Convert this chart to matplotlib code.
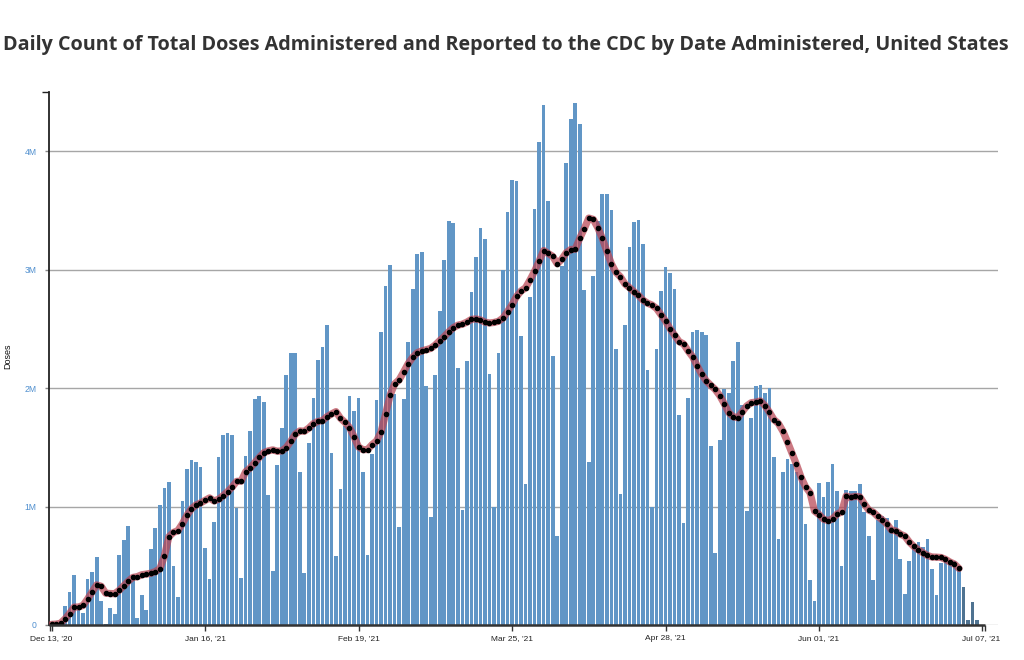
import matplotlib
matplotlib.use("Agg")
import matplotlib.pyplot as plt
import numpy as np
import pandas as pd

# ---------------- data (millions of doses per day, starting Dec 13, 2020) ----------------
start_date = "2020-12-13"
doses_millions = [
    0.005, 0.01, 0.03, 0.16, 0.28, 0.42, 0.16,
    0.10, 0.39, 0.45, 0.57, 0.20, 0.01, 0.14,
    0.09, 0.59, 0.72, 0.84, 0.42, 0.06, 0.25,
    0.13, 0.64, 0.82, 1.01, 1.16, 1.21, 0.50,
    0.24, 1.05, 1.32, 1.39, 1.38, 1.33, 0.65,
    0.39, 0.87, 1.42, 1.60, 1.62, 1.60, 0.99,
    0.40, 1.43, 1.64, 1.91, 1.93, 1.88, 1.10,
    0.46, 1.35, 1.66, 2.11, 2.30, 2.30, 1.29,
    0.44, 1.54, 1.92, 2.24, 2.35, 2.53, 1.45,
    0.58, 1.15, 1.68, 1.93, 1.81, 1.92, 1.29,
    0.59, 1.44, 1.90, 2.47, 2.86, 3.04, 1.95,
    0.83, 1.91, 2.39, 2.84, 3.13, 3.15, 2.02,
    0.91, 2.11, 2.65, 3.08, 3.41, 3.39, 2.17,
    0.97, 2.23, 2.81, 3.11, 3.35, 3.26, 2.12,
    1.00, 2.30, 3.00, 3.49, 3.76, 3.75, 2.44,
    1.19, 2.77, 3.51, 4.08, 4.39, 3.58, 2.27,
    0.75, 3.03, 3.90, 4.27, 4.41, 4.23, 2.83,
    1.38, 2.95, 3.41, 3.64, 3.64, 3.50, 2.33,
    1.11, 2.53, 3.19, 3.40, 3.42, 3.22, 2.15,
    1.00, 2.33, 2.82, 3.02, 2.97, 2.84, 1.77,
    0.86, 1.92, 2.47, 2.49, 2.47, 2.45, 1.51,
    0.61, 1.56, 1.99, 1.96, 2.23, 2.39, 1.86,
    0.96, 1.75, 2.02, 2.03, 1.96, 2.00, 1.42,
    0.73, 1.29, 1.40, 1.36, 1.29, 1.25, 0.85,
    0.38, 0.20, 1.20, 1.08, 1.21, 1.36, 1.13,
    0.50, 1.14, 1.13, 1.13, 1.19, 0.95, 0.75,
    0.38, 0.89, 0.92, 0.90, 0.83, 0.89, 0.56,
    0.26, 0.54, 0.66, 0.70, 0.66, 0.73, 0.47,
    0.25, 0.52, 0.55, 0.54, 0.54, 0.47,
    0.32, 0.04, 0.19, 0.04,
]
incomplete_days = 4          # most recent days, reporting still incomplete
avg_window = 7               # 7-day moving average

tick_dates = ["2020-12-13", "2021-01-16", "2021-02-19", "2021-03-25",
              "2021-04-28", "2021-06-01", "2021-07-07"]
tick_labels = ["Dec 13, '20", "Jan 16, '21", "Feb 19, '21", "Mar 25, '21",
               "Apr 28, '21", "Jun 01, '21", "Jul 07, '21"]
y_ticks = [0, 1e6, 2e6, 3e6, 4e6]
y_tick_labels = ["0", "1M", "2M", "3M", "4M"]
title = ("Daily Count of Total Doses Administered and Reported to the CDC by "
         "Date Administered, United States")

# ---------------- derived ----------------
doses = np.array(doses_millions) * 1e6
n = len(doses)
t0 = pd.Timestamp(start_date)
day_idx = np.arange(n)
tick_pos = [(pd.Timestamp(d) - t0).days for d in tick_dates]
n_complete = n - incomplete_days
moving_avg = pd.Series(doses[:n_complete]).rolling(avg_window, min_periods=1).mean()

# ---------------- figure ----------------
W, H = 1024, 660
fig = plt.figure(figsize=(W / 100, H / 100), dpi=100)
fig.patch.set_facecolor("white")

ax_left, ax_right, ax_top, ax_bottom = 49, 998, 92, 625
ax = fig.add_axes([ax_left / W, 1 - ax_bottom / H,
                   (ax_right - ax_left) / W, (ax_bottom - ax_top) / H])

px_per_day = 4.515
x0_px = 51.5
xmin = (ax_left - x0_px) / px_per_day
xmax = (ax_right - x0_px) / px_per_day
domain_end = (985 - x0_px) / px_per_day
ax.set_xlim(xmin, xmax)
ax.set_ylim(0, 4.5e6)

# gridlines
for y in y_ticks[1:]:
    ax.axhline(y, color="#a6a6a6", lw=1.0, zorder=0)
ax.axhline(0, color="#bdbdbd", lw=1.0, zorder=0)

# bars
colors = ["#6196c6"] * n_complete + ["#4f7391"] * incomplete_days
ax.bar(day_idx, doses, width=0.82, color=colors, zorder=2, linewidth=0)

# moving average
ax.plot(day_idx[:n_complete], moving_avg, color="#b84452", alpha=0.72,
        lw=5.2, solid_capstyle="round", solid_joinstyle="round", zorder=3)
ax.plot(day_idx[:n_complete], moving_avg, linestyle="none", marker="o",
        markersize=3.0, color="black", zorder=4)

# axes styling
for s in ["top", "right", "bottom"]:
    ax.spines[s].set_visible(False)
ax.spines["left"].set_color("#222222")
ax.spines["left"].set_linewidth(1.3)
ax.plot([xmin, domain_end], [0, 0], color="#333333", lw=1.8, zorder=5,
        clip_on=False, solid_capstyle="butt")

ax.set_xticks(tick_pos)
ax.set_xticklabels(tick_labels, fontsize=6.0, color="#222222",
                   family="Liberation Sans")
ax.set_xticks([xmin + 0.3, domain_end], minor=True)
ax.tick_params(axis="x", which="both", length=4, width=1.0, color="#333333",
               pad=3)

ax.set_yticks(y_ticks)
ax.set_yticklabels(y_tick_labels, fontsize=6.2, color="#4f8fcf",
                   family="Liberation Sans")
ax.set_yticks([4.5e6], minor=True)
ax.tick_params(axis="y", which="major", length=3, width=1.0, color="#888888",
               pad=6)
ax.tick_params(axis="y", which="minor", length=5, width=1.0, color="#222222")

fig.text(8 / W, 1 - 356 / H, "Doses", rotation=90, ha="center", va="center",
         fontsize=6.5, color="#111111", family="Liberation Sans")

fig.text(506 / W, 1 - 45 / H, title, ha="center", va="center", fontsize=14.2,
         fontweight="bold", color="#333333", family="Open Sans")

fig.savefig("out.png", dpi=100, facecolor="white")
